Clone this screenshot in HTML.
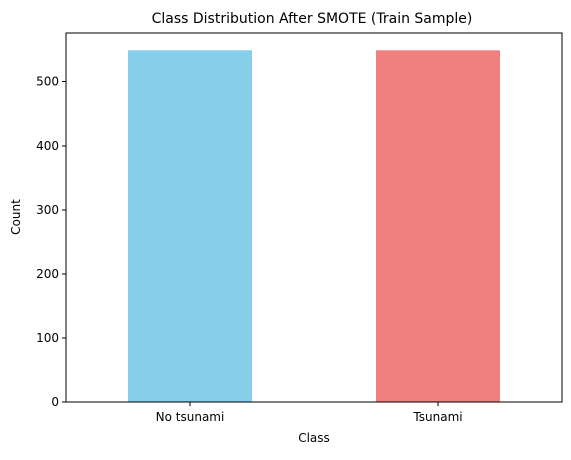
<!DOCTYPE html>
<html><head><meta charset="utf-8"><style>
body{margin:0;background:#fff;}
svg text{font-family:"DejaVu Sans","Liberation Sans",sans-serif;fill:#000;}
</style></head><body>
<svg width="571" height="455" xmlns="http://www.w3.org/2000/svg">
<text x="312" y="23" font-size="14" text-anchor="middle">Class Distribution After SMOTE (Train Sample)</text>
<g id="bars"></g>
<g id="axes"></g>
<text x="314" y="442" font-size="12" text-anchor="middle">Class</text>
<text transform="translate(20,217) rotate(-90)" font-size="12" text-anchor="middle">Count</text>
</svg>
<script>
const categories = ["No tsunami", "Tsunami"];
const counts = [549, 549];
const colors = ["#87ceeb", "#f08080"];
const yTicks = [0, 100, 200, 300, 400, 500];

const L=66,R=562,T=33,B=402;
const yMax=576;
const y=v=>B-(v/yMax)*(B-T);
const band=(R-L)/categories.length;
const xc=i=>L+band*(i+0.5);
const ns="http://www.w3.org/2000/svg";
const bars=document.getElementById('bars'), axes=document.getElementById('axes');
function mk(tag,attrs,parent){const e=document.createElementNS(ns,tag);for(const k in attrs)e.setAttribute(k,attrs[k]);parent.appendChild(e);return e;}
categories.forEach((c,i)=>{
  const w=band*0.5;
  const r=mk('rect',{x:xc(i)-w/2,y:y(counts[i]),width:w,height:B-y(counts[i]),fill:colors[i]},bars);
  
  
  const t=mk('line',{x1:xc(i),x2:xc(i),y1:B,y2:B+4,stroke:'#000','stroke-width':1,'shape-rendering':'crispEdges'},axes);
  
  
  const lb=mk('text',{x:xc(i),y:B+19,'font-size':12,'text-anchor':'middle'},axes);
  lb.textContent=c;
  
  
});
yTicks.forEach(v=>{
  const t=mk('line',{x1:L-4,x2:L,y1:y(v),y2:y(v),stroke:'#000','stroke-width':1,'shape-rendering':'crispEdges'},axes);
  
  
  const lb=mk('text',{x:L-7,y:y(v)+4,'font-size':12,'text-anchor':'end'},axes);
  lb.textContent=v;
  
  
});
const f=mk('rect',{x:L,y:T,width:R-L,height:B-T,fill:'none',stroke:'#000','stroke-width':1,'shape-rendering':'crispEdges'},axes);


</script>
</body></html>
